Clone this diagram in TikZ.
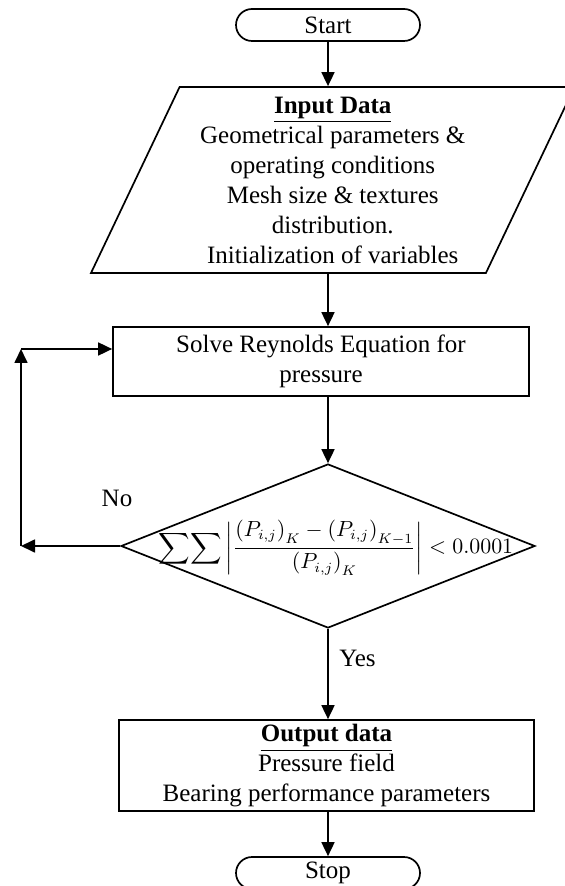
\documentclass[tikz,border=0pt]{standalone}
\usepackage{amsmath}
\usepackage{fontspec}
\setmainfont{Liberation Serif}
\usetikzlibrary{arrows.meta,shapes.geometric,calc}

\begin{document}
\begin{tikzpicture}[x=0.5pt, y=-0.5pt, line width=0.85pt,
  every node/.style={font=\fontsize{12.5}{15}\selectfont},
  term/.style={draw, rounded corners=8pt, minimum width=92pt, minimum height=16pt, inner sep=0pt},
  io/.style={draw, trapezium, trapezium left angle=62, trapezium right angle=118, trapezium stretches body,
    minimum width=241.75pt, minimum height=93pt, align=center, inner sep=0pt},
  bx/.style={draw, rectangle, align=center, inner sep=0pt},
  dec/.style={draw, diamond, minimum width=207pt, minimum height=82pt, inner sep=0pt},
  arr/.style={-{Triangle[length=7pt, width=6.5pt]}}]
\useasboundingbox (0,0) rectangle (564,886);
% Flow
\node[term] (start) at (328,25) {Start};
\node[io] (input) at (332.75,180) {\underline{\textbf{Input Data}}\\Geometrical parameters \&\\operating conditions\\Mesh size \& textures\\distribution.\\Initialization of variables};
\node[bx, minimum width=208pt, minimum height=34.5pt] (solve) at (321,361.5) {Solve Reynolds Equation for\\pressure};
\node[dec] (check) at (328,546) {};
\node[font=\fontsize{10.5}{12}\selectfont, inner sep=0pt] (crit) at (336,548) {$\displaystyle\sum\!\sum\left|\frac{\left(P_{i,j}\right)_K-\left(P_{i,j}\right)_{K-1}}{\left(P_{i,j}\right)_K}\right| < 0.0001$};
\node[bx, minimum width=207.5pt, minimum height=45.5pt] (output) at (326.5,765.5) {\underline{\textbf{Output data}}\\Pressure field\\Bearing performance parameters};
\node[term] (stop) at (328,873) {Stop};
\draw[arr] (start) -- (start |- input.north);
\draw[arr] (input.south -| start) -- (solve.north -| start);
\draw[arr] (solve.south -| start) -- (check.north);
\draw[arr] (check.south) -- (output.north -| check);
\draw[arr] (output.south -| stop) -- (stop);
% Loop back
\coordinate (lb) at (21,546);
\coordinate (lt) at (21,349);
\draw[arr] (check.west) -- (lb);
\draw[arr] (lb) -- (lt);
\draw[arr] (lt) -- (lt -| solve.west);
\node (no) at (117,498) {No};
\node (yes) at (357.5,658) {Yes};
\end{tikzpicture}
\end{document}
